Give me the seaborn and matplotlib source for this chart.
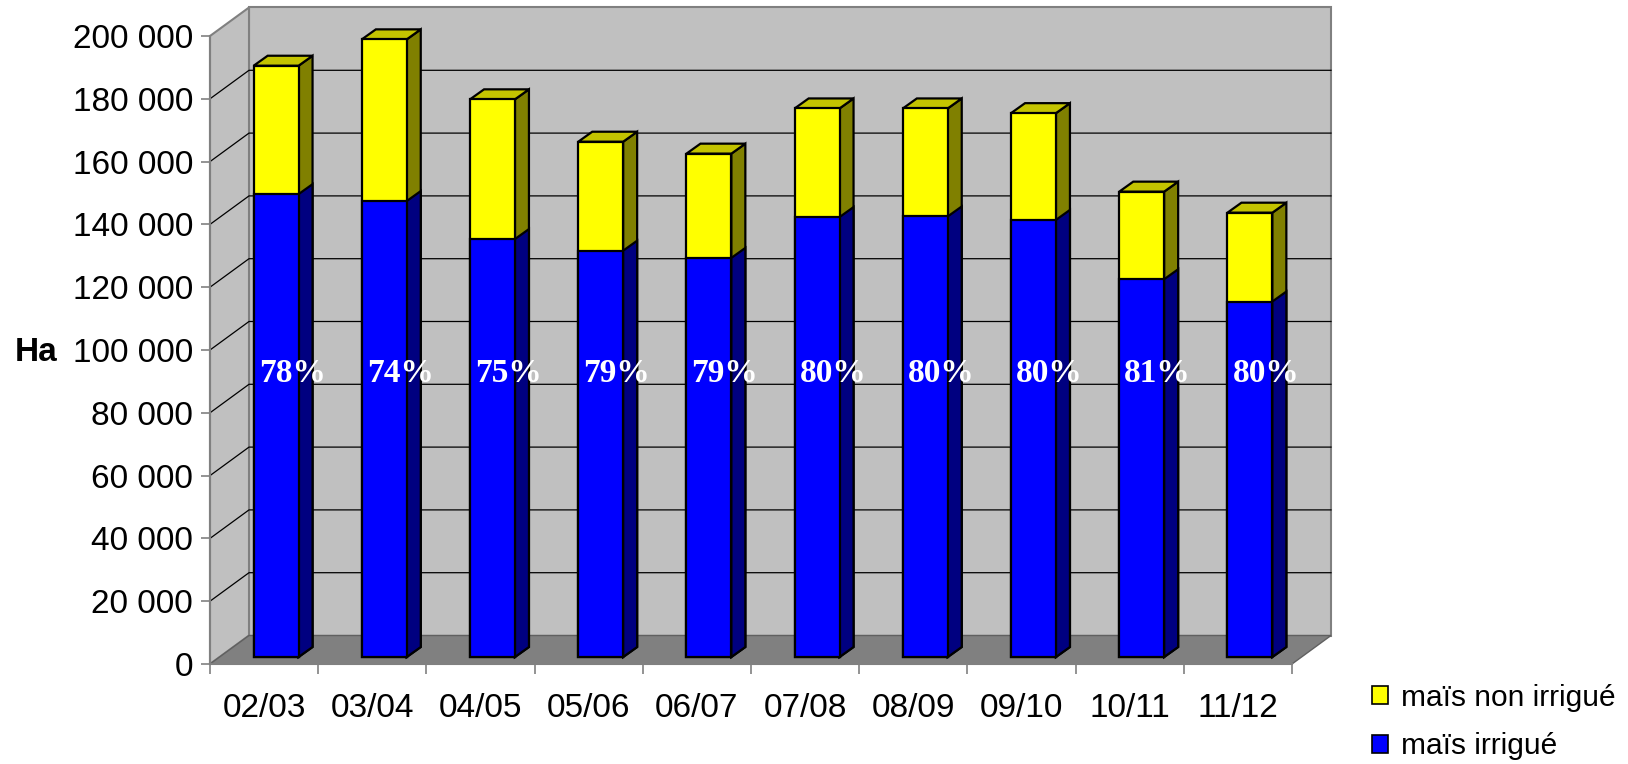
import numpy as np
import pandas as pd
import matplotlib
matplotlib.use('Agg')
import matplotlib.pyplot as plt
import seaborn as sns
from matplotlib.patches import Polygon, Patch

plt.rcParams['font.family'] = ['Liberation Sans', 'DejaVu Sans']

# données (ha)
campagnes = ['02/03', '03/04', '04/05', '05/06', '06/07', '07/08', '08/09', '09/10', '10/11', '11/12']
irrigue = [147400, 145200, 133100, 129400, 127100, 140100, 140300, 139200, 120300, 113200]
non_irrigue = [40900, 51500, 44500, 34700, 33200, 34600, 34400, 34000, 27900, 28300]
graduations = list(range(0, 200001, 20000))
legende = ['maïs non irrigué', 'maïs irrigué']

df = pd.DataFrame({'campagne': campagnes, 'irrigue': irrigue, 'non_irrigue': non_irrigue})
df['total'] = df['irrigue'] + df['non_irrigue']
df['part'] = (100 * df['irrigue'] / df['total']).round().astype(int)

W, H = 1628, 764
fig = plt.figure(figsize=(W / 100, H / 100), dpi=100)
ax = fig.add_axes([210 / W, 100 / H, 1082 / W, 628 / H])
ax.patch.set_visible(False)

# pixels -> unités de données
ppx = 1082 / 10
ppy = 628 / 200000
ymax = 200000
DX, DY = 39 / ppx, 28.5 / ppy      # profondeur du décor
BX, BY = 12 / ppx, 7 / ppy         # décalage face avant des barres
SX, SY = 14 / ppx, 10 / ppy        # profondeur des barres
larg = 0.415

# murs et sol
fond = Polygon([(-0.5 + DX, DY), (9.5 + DX, DY), (9.5 + DX, ymax + DY), (-0.5 + DX, ymax + DY)],
               closed=True, fc='#c0c0c0', ec='#808080', lw=1.5, zorder=0.5, clip_on=False)
cote = Polygon([(-0.5, 0), (-0.5 + DX, DY), (-0.5 + DX, ymax + DY), (-0.5, ymax)],
               closed=True, fc='#c0c0c0', ec='#808080', lw=1.5, zorder=0.5, clip_on=False)
sol = Polygon([(-0.5, 0), (9.5, 0), (9.5 + DX, DY), (-0.5 + DX, DY)],
              closed=True, fc='#808080', ec='#606060', lw=1, zorder=0.7, clip_on=False)
for p in (fond, cote, sol):
    ax.add_patch(p)

# quadrillage
for v in graduations[1:-1]:
    ax.plot([-0.5, -0.5 + DX, 9.5 + DX], [v, v + DY, v + DY], color='black', lw=0.9,
            zorder=0.6, clip_on=False)


def barres(colonne, c_face, c_cote, c_dessus, z):
    n0 = len(ax.patches)
    sns.barplot(data=df, x='campagne', y=colonne, color=c_face, saturation=1, width=larg,
                errorbar=None, edgecolor='black', linewidth=1.6, ax=ax)
    for i, rect in enumerate(ax.patches[n0:]):
        rect.set_x(rect.get_x() + BX)
        rect.set_y(rect.get_y() + BY)
        rect.set_zorder(z + 0.1)
        rect.set_clip_on(False)
        xl = rect.get_x()
        xr = xl + rect.get_width()
        b = rect.get_y()
        t = b + rect.get_height()
        ax.add_patch(Polygon([(xr, b), (xr + SX, b + SY), (xr + SX, t + SY), (xr, t)], closed=True,
                             fc=c_cote, ec='black', lw=1.6, zorder=z, clip_on=False))
        if c_dessus is not None:
            ax.add_patch(Polygon([(xl, t), (xr, t), (xr + SX, t + SY), (xl + SX, t + SY)],
                                 closed=True, fc=c_dessus, ec='black', lw=1.6, zorder=z,
                                 clip_on=False))


barres('total', '#FFFF00', '#808000', '#C4C400', 3)
barres('irrigue', '#0000FF', '#000080', None, 4)

# pourcentages irrigués
for i, p in enumerate(df['part']):
    ax.text(i + 28 / ppx, 92500, f"{p}%", ha='center', va='center', color='white',
            fontweight='bold', fontsize=24, family='Liberation Serif', zorder=6)

ax.set_xlim(-0.5, 9.5)
ax.set_ylim(0, ymax)
ax.set_xlabel('')
ax.set_ylabel('')
for s in ('top', 'right'):
    ax.spines[s].set_visible(False)
ax.spines['left'].set_bounds(0, ymax)
for s in ('left', 'bottom'):
    ax.spines[s].set_color('#808080')
    ax.spines[s].set_linewidth(1.5)
    ax.spines[s].set_zorder(1)

ax.set_yticks(graduations)
ax.set_yticklabels([f"{v:,}".replace(',', ' ') for v in graduations])
ax.tick_params(axis='y', length=6.5, width=1.2, color='#808080', labelsize=24, pad=5.8)
ax.set_xticks(range(len(campagnes)))
ax.set_xticklabels(campagnes)
ax.set_xticks(np.arange(-0.5, len(campagnes), 1), minor=True)
ax.tick_params(axis='x', which='major', length=0, labelsize=24, pad=21)
ax.tick_params(axis='x', which='minor', length=7.2, width=1.2, color='#808080')

fig.text(36 / W, 1 - 352 / H, 'Ha', fontsize=24, fontweight='bold', ha='center', va='center')

poignees = [Patch(fc='#FFFF00', ec='black', lw=1.2, label=legende[0]),
            Patch(fc='#0000FF', ec='black', lw=1.2, label=legende[1])]
fig.legend(handles=poignees, loc='center left', bbox_to_anchor=(1372 / W, 1 - 722 / H),
           frameon=False, fontsize=21.5, handlelength=0.55, handleheight=0.55,
           handletextpad=0.43, labelspacing=0.68, borderpad=0, borderaxespad=0)

fig.savefig('out.png', dpi=100)
